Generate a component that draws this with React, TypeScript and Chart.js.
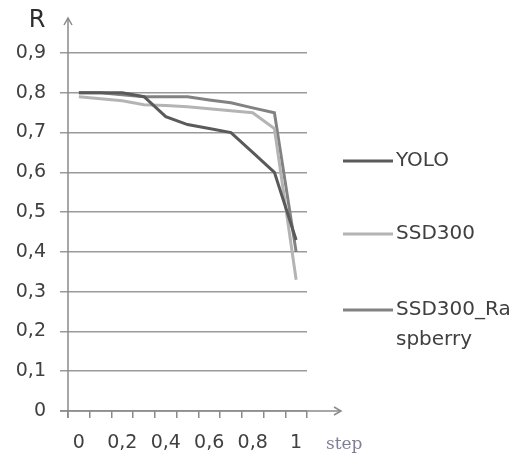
import React, { useEffect, useRef } from "react";
import { Chart, registerables } from "chart.js";

Chart.register(...registerables);

const categories = ["0", "0,1", "0,2", "0,3", "0,4", "0,5", "0,6", "0,7", "0,8", "0,9", "1"];
const shownLabels = ["0", "", "0,2", "", "0,4", "", "0,6", "", "0,8", "", "1"];
const yolo = [0.8, 0.8, 0.8, 0.79, 0.74, 0.72, 0.71, 0.7, 0.65, 0.6, 0.43];
const ssd300 = [0.79, 0.785, 0.78, 0.77, 0.768, 0.765, 0.76, 0.755, 0.75, 0.71, 0.33];
const ssdRaspberry = [0.8, 0.8, 0.795, 0.79, 0.79, 0.79, 0.782, 0.775, 0.762, 0.75, 0.4];
const seriesNames = ["YOLO", "SSD300", "SSD300_Raspberry"];
const legendLines = [["YOLO"], ["SSD300"], ["SSD300_Ra", "spberry"]];
const seriesColors = ["#5a5a5a", "#b4b4b4", "#828282"];

const FONT = "'DejaVu Sans', sans-serif";
const TEXT = "#404040";

const decorPlugin = {
  id: "decor",
  afterDraw(chart: any) {
    const ctx = chart.ctx;
    const area = chart.chartArea;
    const left = area.left;
    const bottom = area.bottom;
    ctx.save();
    ctx.strokeStyle = "#8a8a8a";
    ctx.lineWidth = 1.5;
    // y axis
    ctx.beginPath();
    ctx.moveTo(left, bottom + 7);
    ctx.lineTo(left, 18);
    ctx.stroke();
    ctx.beginPath();
    ctx.moveTo(left - 4, 25);
    ctx.lineTo(left, 18);
    ctx.lineTo(left + 4, 25);
    ctx.stroke();
    // x axis
    ctx.beginPath();
    ctx.moveTo(left - 8, bottom);
    ctx.lineTo(341, bottom);
    ctx.stroke();
    ctx.beginPath();
    ctx.moveTo(334, bottom - 4);
    ctx.lineTo(341, bottom);
    ctx.lineTo(334, bottom + 4);
    ctx.stroke();
    // titles
    ctx.fillStyle = "#2e2e2e";
    ctx.font = `24px ${FONT}`;
    ctx.textAlign = "center";
    ctx.textBaseline = "middle";
    ctx.fillText("R", 37, 21);
    ctx.fillStyle = "#7f7f9a";
    ctx.font = "17px 'DejaVu Serif', serif";
    ctx.textAlign = "left";
    ctx.fillText("step", 326, 445);
    // legend
    const ys = [161, 234, 310];
    ctx.font = `20px ${FONT}`;
    ctx.fillStyle = TEXT;
    legendLines.forEach((lines, i) => {
      ctx.strokeStyle = seriesColors[i];
      ctx.lineWidth = 3;
      ctx.beginPath();
      ctx.moveTo(343, ys[i]);
      ctx.lineTo(393, ys[i]);
      ctx.stroke();
      lines.forEach((t, j) => {
        ctx.fillText(t, 396, ys[i] + j * 30);
      });
    });
    ctx.restore();
  },
};

export default function App() {
  const ref = useRef<HTMLCanvasElement>(null);
  useEffect(() => {
    const chart = new Chart(ref.current as HTMLCanvasElement, {
      type: "line",
      data: {
        labels: categories,
        datasets: [yolo, ssd300, ssdRaspberry].map((d, i) => ({
          label: seriesNames[i],
          data: d,
          borderColor: seriesColors[i],
          backgroundColor: seriesColors[i],
          borderWidth: 3,
          pointRadius: 0,
          tension: 0,
        })),
      },
      options: {
        responsive: false,
        animation: false,
        layout: { padding: { top: 53, right: 208, left: 0, bottom: 0 } },
        plugins: { legend: { display: false }, tooltip: { enabled: false } },
        scales: {
          x: {
            type: "category",
            offset: true,
            grid: {
              display: true,
              drawOnChartArea: false,
              drawTicks: true,
              tickLength: 7,
              offset: true,
              color: "#8a8a8a",
              lineWidth: 1.5,
            },
            border: { display: false },
            ticks: {
              autoSkip: false,
              maxRotation: 0,
              padding: 14,
              color: TEXT,
              font: { family: FONT, size: 19 },
              callback: (_v: any, i: number) => shownLabels[i],
            },
            afterFit: (s: any) => {
              s.height = 48;
            },
          },
          y: {
            min: 0,
            max: 0.9,
            grid: { color: "#9a9a9a", lineWidth: 1.5, tickLength: 8 },
            border: { display: false },
            ticks: {
              stepSize: 0.1,
              padding: 14,
              color: TEXT,
              font: { family: FONT, size: 19 },
              callback: (v: any) => {
                const r = Math.round(Number(v) * 10) / 10;
                return r === 0 ? "0" : r.toFixed(1).replace(".", ",");
              },
            },
            afterFit: (s: any) => {
              s.width = 68;
            },
          },
        },
      },
      plugins: [decorPlugin],
    } as any);
    return () => chart.destroy();
  }, []);
  return (
    <div style={{ position: "absolute", left: 0, top: 0, width: 515, height: 459 }}>
      <canvas ref={ref} width={515} height={459} />
    </div>
  );
}
